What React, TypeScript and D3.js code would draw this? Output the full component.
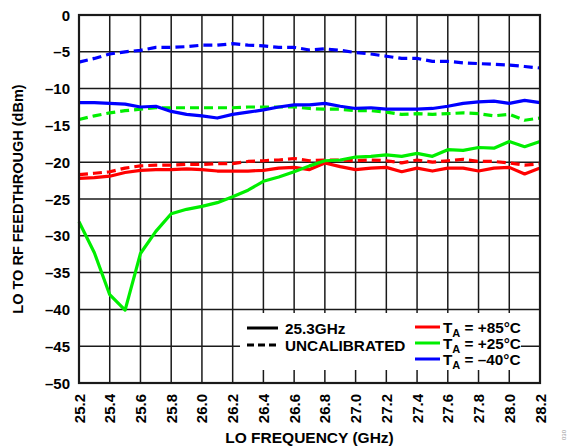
import React from "react";
import * as d3 from "d3";

const freqs = [25.2,25.3,25.4,25.5,25.6,25.7,25.8,25.9,26.0,26.1,26.2,26.3,26.4,26.5,26.6,26.7,26.8,26.9,27.0,27.1,27.2,27.3,27.4,27.5,27.6,27.7,27.8,27.9,28.0,28.1,28.2];

const red85Cal = [-22.2,-22.1,-21.9,-21.4,-21.1,-21.0,-21.0,-20.9,-21.0,-21.2,-21.2,-21.2,-21.1,-20.8,-20.7,-21.0,-20.1,-20.6,-21.0,-20.8,-20.7,-21.3,-20.8,-21.2,-20.8,-20.8,-21.2,-20.8,-20.7,-21.6,-20.8];
const red85Uncal = [-21.7,-21.5,-21.3,-20.8,-20.5,-20.4,-20.4,-20.3,-20.3,-20.2,-20.2,-19.9,-19.8,-19.7,-19.5,-19.8,-19.7,-19.7,-19.8,-19.7,-19.8,-20.1,-19.7,-20.0,-19.8,-19.6,-19.9,-19.9,-20.1,-20.4,-20.2];
const green25Cal = [-28.1,-32.3,-38.0,-40.1,-32.4,-29.4,-27.0,-26.4,-26.0,-25.5,-24.7,-23.8,-22.6,-22.0,-21.3,-20.5,-19.8,-19.7,-19.3,-19.2,-19.0,-19.2,-18.8,-19.2,-18.3,-18.4,-18.0,-18.1,-17.2,-17.9,-17.2];
const green25Uncal = [-14.2,-13.7,-13.3,-13.0,-12.8,-12.6,-12.6,-12.6,-12.6,-12.6,-12.6,-12.5,-12.5,-12.5,-12.5,-12.7,-12.8,-12.8,-13.0,-13.0,-13.2,-13.5,-13.4,-13.5,-13.4,-13.3,-13.4,-13.7,-13.5,-14.3,-14.0];
const blueM40Cal = [-11.9,-11.9,-12.0,-12.1,-12.5,-12.4,-13.1,-13.5,-13.7,-14.0,-13.5,-13.2,-12.9,-12.5,-12.2,-12.2,-12.0,-12.4,-12.7,-12.6,-12.8,-12.8,-12.8,-12.7,-12.4,-12.0,-11.8,-11.7,-12.0,-11.6,-11.9];
const blueM40Uncal = [-6.4,-5.9,-5.3,-5.0,-4.8,-4.4,-4.4,-4.3,-4.1,-4.1,-3.9,-4.1,-4.2,-4.4,-4.4,-4.75,-4.6,-4.8,-5.1,-5.3,-5.6,-5.9,-5.9,-6.3,-6.3,-6.5,-6.6,-6.7,-6.8,-7.0,-7.2];

const xTicks = [25.2,25.4,25.6,25.8,26.0,26.2,26.4,26.6,26.8,27.0,27.2,27.4,27.6,27.8,28.0,28.2];
const yTicks = [0,-5,-10,-15,-20,-25,-30,-35,-40,-45,-50];

const RED = "#ff0000";
const GREEN = "#00ee00";
const BLUE = "#0000ff";

const series = [
  { values: red85Uncal, color: RED, dashed: true },
  { values: green25Uncal, color: GREEN, dashed: true },
  { values: blueM40Uncal, color: BLUE, dashed: true },
  { values: red85Cal, color: RED, dashed: false },
  { values: green25Cal, color: GREEN, dashed: false },
  { values: blueM40Cal, color: BLUE, dashed: false },
];

const legendTemps = [
  { sign: "+85°C", color: RED },
  { sign: "+25°C", color: GREEN },
  { sign: "–40°C", color: BLUE },
];

export default function App() {
  const W = 570, H = 447;
  const L = 79, R = 540, T = 15, B = 383;
  const x = d3.scaleLinear().domain([25.2, 28.2]).range([L, R]);
  const y = d3.scaleLinear().domain([0, -50]).range([T, B]);
  const line = d3.line<number>().x((_, i) => x(freqs[i])).y((d) => y(d));
  const font = "'Liberation Sans', Arial, sans-serif";
  const fmtY = (v: number) => (v < 0 ? "–" + Math.abs(v) : String(v));

  return (
    <svg width={W} height={H} style={{ position: "absolute", left: 0, top: 0, background: "#fff" }} fontFamily={font} fontWeight="bold">
      {/* grid */}
      {xTicks.map((t) => (
        <line key={"gx" + t} x1={x(t)} x2={x(t)} y1={T} y2={B} stroke="#1a1a1a" strokeWidth={1.5} />
      ))}
      {yTicks.map((t) => (
        <line key={"gy" + t} x1={L} x2={R} y1={y(t)} y2={y(t)} stroke="#1a1a1a" strokeWidth={1.5} />
      ))}
      {/* legend background */}
      <rect x={240} y={313} width={281} height={57} fill="#fff" />
      {/* data */}
      {series.map((s, i) => (
        <path key={i} d={line(s.values) || ""} fill="none" stroke={s.color} strokeWidth={3.2}
          strokeDasharray={s.dashed ? "9,5" : undefined} strokeLinejoin="round" />
      ))}
      {/* frame */}
      <rect x={L} y={T} width={R - L} height={B - T} fill="none" stroke="#1a1a1a" strokeWidth={2.2} />
      {/* y ticks */}
      {yTicks.map((t) => (
        <text key={"yl" + t} x={70} y={y(t) + 5.5} textAnchor="end" fontSize={15} fill="#000">{fmtY(t)}</text>
      ))}
      {/* x ticks */}
      {xTicks.map((t) => (
        <text key={"xl" + t} transform={`translate(${x(t) + 5.5},${394}) rotate(-90)`} textAnchor="end" fontSize={15} fill="#000">{t.toFixed(1)}</text>
      ))}
      {/* axis titles */}
      <text transform={`translate(23,${(T + B) / 2}) rotate(-90)`} textAnchor="middle" fontSize={14.5} fill="#000">LO TO RF FEEDTHROUGH (dBm)</text>
      <text x={(L + R) / 2} y={443} textAnchor="middle" fontSize={15.5} fill="#000">LO FREQUENCY (GHz)</text>
      {/* legend */}
      <line x1={247} x2={278} y1={328} y2={328} stroke="#000" strokeWidth={3} />
      <text x={285} y={333.5} fontSize={15.3} fill="#000">25.3GHz</text>
      <line x1={247} x2={278} y1={345} y2={345} stroke="#000" strokeWidth={3} strokeDasharray="7,4" />
      <text x={285} y={350.5} fontSize={15.3} fill="#000">UNCALIBRATED</text>
      {legendTemps.map((lt, i) => (
        <g key={lt.sign}>
          <line x1={415} x2={440} y1={327 + i * 16} y2={327 + i * 16} stroke={lt.color} strokeWidth={3} />
          <text x={443} y={332.5 + i * 16} fontSize={15.3} fill="#000">
            T<tspan fontSize={11} dy={4}>A</tspan><tspan dy={-4}> = {lt.sign}</tspan>
          </text>
        </g>
      ))}
      <text transform="translate(566,440) rotate(-90)" fontSize={6} fill="#999" fontWeight="normal">030</text>
    </svg>
  );
}
